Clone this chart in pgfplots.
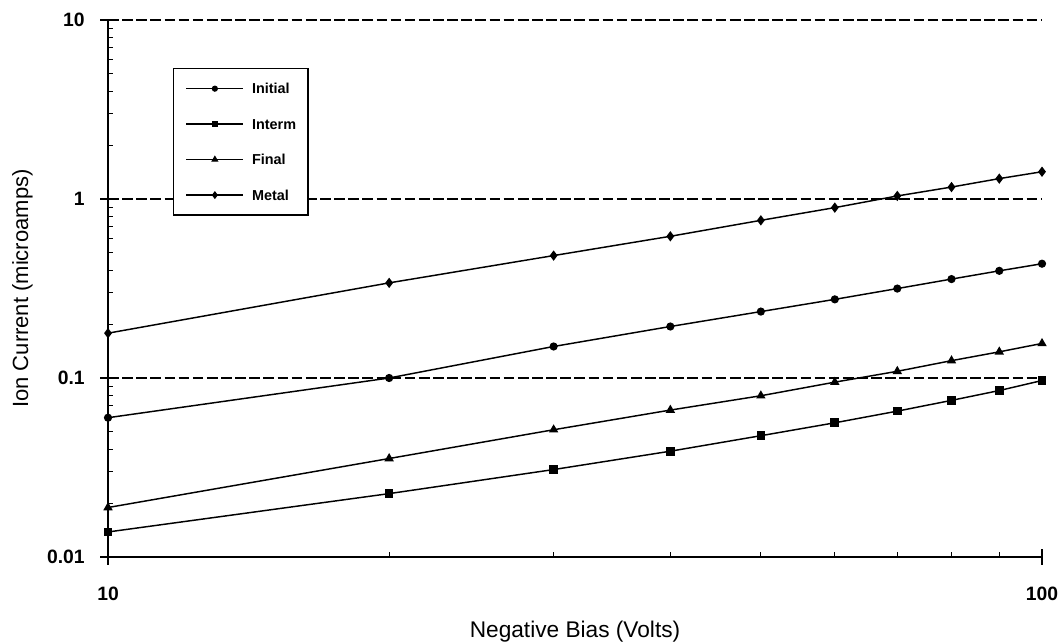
\documentclass[border=0pt]{standalone}
\usepackage{pgfplots}
\pgfplotsset{compat=1.18}
\usepackage{fontspec}
\setmainfont{Liberation Sans}
\pgfplotsset{
  longlegend/.style={
    legend image code/.code={\draw[mark repeat=2,mark phase=2,#1] plot coordinates {(0cm,0cm) (0.75cm,0cm) (1.5cm,0cm)};}
  }
}
\begin{document}
\begin{tikzpicture}
\begin{axis}[
  scale only axis, width=700.5pt, height=402.75pt,
  xmode=log, ymode=log,
  xmin=10, xmax=100, ymin=0.01, ymax=10,
  axis x line*=bottom, axis y line*=left,
  axis line style={-, line width=1.1pt},
  xtick={10,100}, xticklabels={10,100},
  ytick={0.01,0.1,1,10}, yticklabels={0.01,0.1,1,10},
  tick align=inside,
  major tick length=4pt, minor tick length=4pt,
  tick style={black, line width=0.8pt},
  extra y ticks={0.01,0.1,1,10}, extra y tick labels={},
  extra x ticks={10,100}, extra x tick labels={},
  extra tick style={tick align=center, major tick length=12pt, grid=none},
  ymajorgrids,
  major grid style={black, line width=1.4pt, dash pattern=on 8pt off 2.6pt},
  xticklabel style={font=\fontsize{14.5}{16}\selectfont\bfseries, anchor=base, inner sep=0pt, yshift=-32.8pt},
  yticklabel style={font=\fontsize{14.5}{16}\selectfont\bfseries, anchor=east, inner sep=0pt, xshift=-17.25pt},
  xlabel={Negative Bias (Volts)},
  ylabel={Ion Current (microamps)},
  xlabel style={font=\fontsize{17}{20}\selectfont, at={(axis description cs:0.5,-0.150)}, anchor=base, inner sep=0pt},
  ylabel style={font=\fontsize{16.5}{20}\selectfont, at={(axis description cs:-0.0854,0.5)}, anchor=base, inner sep=0pt},
  longlegend,
  legend style={at={(axis description cs:0.0696,0.9106)}, anchor=north west,
    draw=black, line width=1pt, fill=white,
    font=\fontsize{10.8}{12}\selectfont\bfseries,
    nodes={inner sep=0pt, text height=7.8pt, text depth=0pt},
    /tikz/every odd column/.append style={column sep=6pt},
    row sep=18.8pt, inner xsep=9pt, inner ysep=11.1pt},
  legend cell align=left,
  legend image post style={line width=1.1pt, mark options={scale=0.7}},
]
\addplot[black, line width=1.1pt, mark=*, mark size=2.5pt, mark options={fill=black, solid}] coordinates {
(10,0.060) (20,0.100) (30,0.150) (40,0.194) (50,0.235) (60,0.275) (70,0.316) (80,0.357) (90,0.397) (100,0.435)};
\addlegendentry{Initial}
\addplot[black, line width=1.1pt, mark=square*, mark size=2.7pt, mark options={fill=black, solid}] coordinates {
(10,0.0138) (20,0.0226) (30,0.0308) (40,0.0390) (50,0.0476) (60,0.0562) (70,0.0653) (80,0.0750) (90,0.0851) (100,0.0968)};
\addlegendentry{Interm}
\addplot[black, line width=1.1pt, mark=triangle*, mark size=3pt, mark options={fill=black, solid}] coordinates {
(10,0.0189) (20,0.0355) (30,0.0514) (40,0.0662) (50,0.0796) (60,0.0948) (70,0.109) (80,0.125) (90,0.140) (100,0.156)};
\addlegendentry{Final}
\addplot[black, line width=1.1pt, mark=diamond*, mark size=3pt, mark options={fill=black, solid}] coordinates {
(10,0.178) (20,0.340) (30,0.483) (40,0.619) (50,0.760) (60,0.895) (70,1.04) (80,1.166) (90,1.30) (100,1.42)};
\addlegendentry{Metal}
\end{axis}
\pgfresetboundingbox
\path[use as bounding box] ([xshift=-81pt,yshift=-63.75pt]current axis.south west) rectangle ([xshift=13.5pt,yshift=15pt]current axis.north east);
\end{tikzpicture}
\end{document}
